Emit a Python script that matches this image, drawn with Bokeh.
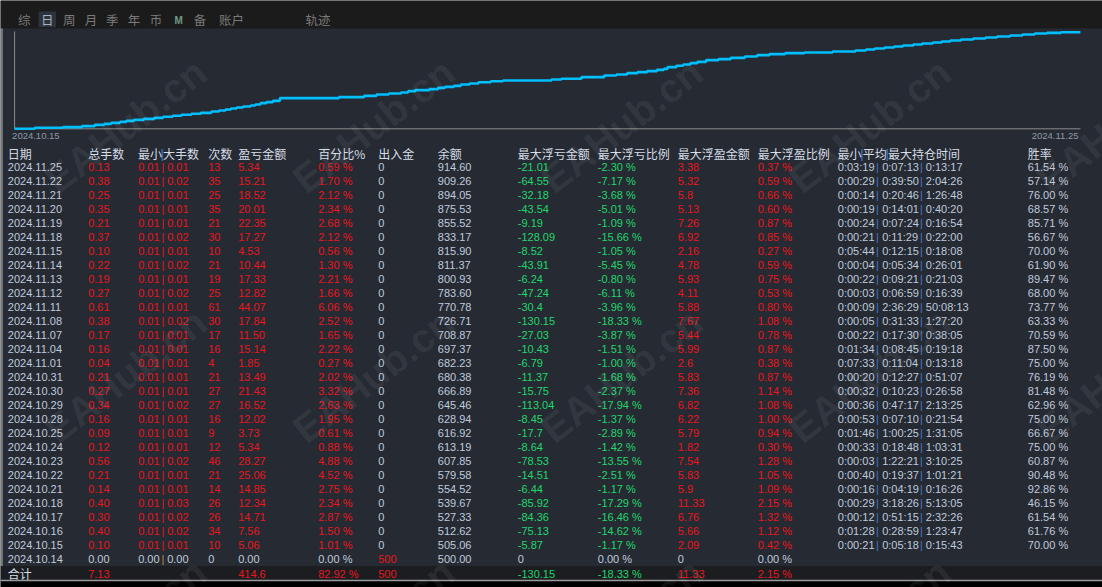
from bokeh.plotting import figure
from bokeh.models import Range1d, ColumnDataSource
from bokeh.core.properties import value
from bokeh.embed import file_html
from bokeh.resources import INLINE

# ------------------------------------------------------------------ data
dates = ["2024.11.25", "2024.11.22", "2024.11.21", "2024.11.20", "2024.11.19", "2024.11.18",
         "2024.11.15", "2024.11.14", "2024.11.13", "2024.11.12", "2024.11.11", "2024.11.08",
         "2024.11.07", "2024.11.04", "2024.11.01", "2024.10.31", "2024.10.30", "2024.10.29",
         "2024.10.28", "2024.10.25", "2024.10.24", "2024.10.23", "2024.10.22", "2024.10.21",
         "2024.10.18", "2024.10.17", "2024.10.16", "2024.10.15", "2024.10.14"]
total_lots = [0.13, 0.38, 0.25, 0.35, 0.21, 0.37, 0.10, 0.22, 0.19, 0.27, 0.61, 0.38, 0.17, 0.16,
              0.04, 0.21, 0.27, 0.34, 0.16, 0.09, 0.12, 0.56, 0.21, 0.14, 0.40, 0.30, 0.40, 0.10, 0.00]
min_lots = [0.01] * 28 + [0.00]
max_lots = [0.01, 0.02, 0.01, 0.01, 0.01, 0.02, 0.01, 0.02, 0.01, 0.02, 0.01, 0.02, 0.01, 0.01,
            0.01, 0.01, 0.01, 0.02, 0.01, 0.01, 0.01, 0.02, 0.01, 0.01, 0.03, 0.02, 0.02, 0.01, 0.00]
trades = [13, 35, 25, 35, 21, 30, 10, 21, 19, 25, 61, 30, 17, 16, 4, 21, 27, 27, 16, 9, 12, 46,
          21, 14, 26, 26, 34, 10, 0]
pnl = [5.34, 15.21, 18.52, 20.01, 22.35, 17.27, 4.53, 10.44, 17.33, 12.82, 44.07, 17.84, 11.50,
       15.14, 1.85, 13.49, 21.43, 16.52, 12.02, 3.73, 5.34, 28.27, 25.06, 14.85, 12.34, 14.71,
       7.56, 5.06, 0.00]
pnl_pct = [0.59, 1.70, 2.12, 2.34, 2.68, 2.12, 0.56, 1.30, 2.21, 1.66, 6.06, 2.52, 1.65, 2.22,
           0.27, 2.02, 3.32, 2.63, 1.95, 0.61, 0.88, 4.88, 4.52, 2.75, 2.34, 2.87, 1.50, 1.01, 0.00]
cash_flow = [0, 0, 0, 0, 0, 0, 0, 0, 0, 0, 0, 0, 0, 0, 0, 0, 0, 0, 0, 0, 0, 0, 0, 0, 0, 0, 0, 0, 500]
balance = [914.60, 909.26, 894.05, 875.53, 855.52, 833.17, 815.90, 811.37, 800.93, 783.60, 770.78,
           726.71, 708.87, 697.37, 682.23, 680.38, 666.89, 645.46, 628.94, 616.92, 613.19, 607.85,
           579.58, 554.52, 539.67, 527.33, 512.62, 505.06, 500.00]
max_float_loss = [-21.01, -64.55, -32.18, -43.54, -9.19, -128.09, -8.52, -43.91, -6.24, -47.24,
                  -30.4, -130.15, -27.03, -10.43, -6.79, -11.37, -15.75, -113.04, -8.45, -17.7,
                  -8.64, -78.53, -14.51, -6.44, -85.92, -84.36, -75.13, -5.87, 0]
max_float_loss_pct = [-2.30, -7.17, -3.68, -5.01, -1.09, -15.66, -1.05, -5.45, -0.80, -6.11, -3.96,
                      -18.33, -3.87, -1.51, -1.00, -1.68, -2.37, -17.94, -1.37, -2.89, -1.42,
                      -13.55, -2.51, -1.17, -17.29, -16.46, -14.62, -1.17, 0.00]
max_float_profit = [3.38, 5.32, 5.8, 5.13, 7.26, 6.92, 2.16, 4.78, 5.93, 4.11, 5.88, 7.67, 5.44,
                    5.99, 2.6, 5.83, 7.36, 6.82, 6.22, 5.79, 1.82, 7.54, 5.83, 5.9, 11.33, 6.76,
                    5.66, 2.09, 0]
max_float_profit_pct = [0.37, 0.59, 0.66, 0.60, 0.87, 0.85, 0.27, 0.59, 0.75, 0.53, 0.80, 1.08,
                        0.78, 0.87, 0.38, 0.87, 1.14, 1.08, 1.00, 0.94, 0.30, 1.28, 1.05, 1.09,
                        2.15, 1.32, 1.12, 0.42, 0.00]
hold_min = ["0:03:19", "0:00:29", "0:00:14", "0:00:19", "0:00:24", "0:00:21", "0:05:44", "0:00:04",
            "0:00:22", "0:00:03", "0:00:09", "0:00:05", "0:00:22", "0:01:34", "0:07:33", "0:00:20",
            "0:00:32", "0:00:36", "0:00:53", "0:01:46", "0:00:33", "0:00:03", "0:00:40", "0:00:16",
            "0:00:29", "0:00:12", "0:01:28", "0:00:21", ""]
hold_avg = ["0:07:13", "0:39:50", "0:20:46", "0:14:01", "0:07:24", "0:11:29", "0:12:15", "0:05:34",
            "0:09:21", "0:06:59", "2:36:29", "0:31:33", "0:17:30", "0:08:45", "0:11:04", "0:12:27",
            "0:10:23", "0:47:17", "0:07:10", "1:00:25", "0:18:48", "1:22:21", "0:19:37", "0:04:19",
            "3:18:26", "0:51:15", "0:28:59", "0:05:18", ""]
hold_max = ["0:13:17", "2:04:26", "1:26:48", "0:40:20", "0:16:54", "0:22:00", "0:18:08", "0:26:01",
            "0:21:03", "0:16:39", "50:08:13", "1:27:20", "0:38:05", "0:19:18", "0:13:18", "0:51:07",
            "0:26:58", "2:13:25", "0:21:54", "1:31:05", "1:03:31", "3:10:25", "1:01:21", "0:16:26",
            "5:13:05", "2:32:26", "1:23:47", "0:15:43", ""]
win_rate = [61.54, 57.14, 76.00, 68.57, 85.71, 56.67, 70.00, 61.90, 89.47, 68.00, 73.77, 63.33,
            70.59, 87.50, 75.00, 76.19, 81.48, 62.96, 75.00, 66.67, 75.00, 60.87, 90.48, 92.86,
            46.15, 61.54, 61.76, 70.00, None]

# totals row (合计)
total_sum_lots = 7.13
total_pnl = 414.6
total_pnl_pct = 82.92
total_cash_flow = 500
total_max_loss = -130.15
total_max_loss_pct = -18.33
total_max_profit = 11.33
total_max_profit_pct = 2.15

headers = ["日期", "总手数", "最小|大手数", "次数", "盈亏金额", "百分比%", "出入金", "余额",
           "最大浮亏金额", "最大浮亏比例", "最大浮盈金额", "最大浮盈比例", "最小|平均|最大持仓时间", "胜率"]
tabs = ["综", "日", "周", "月", "季", "年", "币", "M", "备", "账户", "轨迹"]
chart_start_label = "2024.10.15"
chart_end_label = "2024.11.25"

# balance curve (progress through period in %, balance)
curve_t = [0, 1.9, 4.54, 6.32, 7.52, 8.41, 9.06, 9.89, 10.48, 11.2, 12.13, 13.12, 13.94, 14.83,
           15.66, 16.58, 17.47, 18.46, 19.19, 19.78, 20.3, 20.83, 21.43, 22.15, 22.58, 23.07,
           23.63, 24.23, 24.89, 30.43, 32.8, 33.96, 35.11, 36.26, 36.92, 37.59, 38.9, 39.73,
           40.38, 41.21, 41.87, 42.69, 43.52, 44.67, 45.82, 50.37, 51.3, 53.18, 55.32, 56.47,
           57.47, 58.45, 59.35, 60.26, 60.92, 61.26, 62.08, 62.74, 63.4, 64.06, 64.88, 66.04,
           67.19, 68.51, 69.67, 70.82, 72.3, 74.11, 76.75, 78.9, 79.88, 80.71, 81.63, 82.52,
           83.35, 84.33, 85.16, 86.15, 86.98, 87.79, 88.79, 89.94, 91.1, 92.18, 93.4, 94.56,
           95.71, 96.87, 98.18, 100]
curve_bal = [500, 504.2, 507.0, 511.3, 517.0, 521.3, 525.6, 529.9, 534.2, 538.5, 542.8, 547.1,
             551.4, 555.7, 560.0, 564.3, 568.5, 574.3, 578.5, 582.8, 587.1, 591.4, 595.7, 600.0,
             604.3, 610.0, 614.3, 620.0, 631.5, 635.8, 641.5, 647.2, 651.5, 655.8, 661.5, 665.8,
             670.1, 675.8, 680.1, 684.4, 690.1, 694.4, 700.1, 704.4, 707.3, 711.6, 714.5, 721.6,
             728.8, 733.1, 738.8, 743.1, 747.4, 753.1, 757.4, 764.5, 770.3, 776.0, 781.7, 787.4,
             794.6, 798.9, 804.6, 810.3, 816.0, 820.3, 824.6, 827.5, 831.8, 836.1, 840.4, 844.7,
             849.0, 853.3, 857.5, 861.8, 866.1, 870.4, 874.7, 879.0, 883.3, 887.6, 891.9, 896.2,
             900.5, 904.8, 909.1, 911.9, 914.6, 914.6]

# ------------------------------------------------------------------ style / layout
W, H = 1102, 587
PX0, PY0 = 0, 0
BG = "#252a33"
TOPBAR = "#1b1b1b"
LIGHT = "#c0cbdc"
HEAD = "#d6dce5"
RED = "#e8161d"
GREEN = "#22d66b"
BLUE = "#3f7fd0"
LINE = "#00bfff"
AXIS = "#8a8a8a"
LAT = value("Liberation Sans")
LAT_SIZE = "11px"
CJK = value("Noto Sans CJK SC")

p = figure(width=W, height=H, output_backend="svg", toolbar_location=None,
           x_range=Range1d(PX0, PX0 + W), y_range=Range1d(PY0 + H, PY0),
           min_border=0, outline_line_color=None,
           background_fill_color=BG, border_fill_color=BG)
p.axis.visible = False
p.grid.visible = False

# chart calibration (pixel anchors of the small balance chart)
cx0, cx1 = 14.1, 1079.9            # t = 0 .. 100
cy0, cy1 = 128.3, 31.7             # balance 500 .. 914.6
b0, b1 = 500.0, 914.6
tpp = 100.0 / (cx1 - cx0)
bpp = (b1 - b0) / (cy0 - cy1)
p.extra_x_ranges = {"cx": Range1d((PX0 - cx0) * tpp, (PX0 + W - cx0) * tpp)}
p.extra_y_ranges = {"cy": Range1d(b0 - (PY0 + H - cy0) * bpp, b0 + (cy0 - PY0) * bpp)}

# top bar
p.quad(left=[0], right=[1102], top=[0], bottom=[28], fill_color=TOPBAR, line_color=None)
p.quad(left=[38], right=[55.5], top=[11], bottom=[26.7], fill_color="#2b333f", line_color=None)
tab_x = [17.6, 40.4, 62.5, 84.3, 105.4, 127.2, 149.3, 173.9, 193.3, 218.6, 305]
for tx, t in zip(tab_x, tabs):
    if t == "M":
        p.text(x=[tx], y=[19.5], text=[t], text_color="#6f9a86", text_font=LAT,
               text_font_size="10px", text_font_style="bold", text_baseline="middle")
    else:
        p.text(x=[tx], y=[19], text=[t], text_color="#a9b0ba" if t == "日" else "#7a7a7a",
               text_font=CJK, text_font_size="12.5px", text_baseline="middle")

# left border, bottom black strip
p.segment(x0=[1.5], y0=[28], x1=[1.5], y1=[580], line_color="#8c8c8c", line_width=1.5)
p.quad(left=[0], right=[1102], top=[580], bottom=[587], fill_color="#000000", line_color=None)

# small chart axes + curve
p.segment(x0=[0, 0], y0=[b0, b0], x1=[0, 100], y1=[b0 + (cy0 - 31) * bpp, b0],
          x_range_name="cx", y_range_name="cy", line_color=AXIS, line_width=1)
p.step(x=curve_t, y=curve_bal, mode="after", x_range_name="cx", y_range_name="cy",
       line_color=LINE, line_width=2.6)
p.text(x=[11.6], y=[135.7], text=[chart_start_label], text_color="#8f98a4", text_font=LAT,
       text_font_size="9.5px", text_baseline="middle")
p.text(x=[1078], y=[135.7], text=[chart_end_label], text_color="#8f98a4", text_font=LAT,
       text_font_size="9.5px", text_baseline="middle", text_align="right")

# table
COL = dict(date=7.3, lots=87.7, mm=137.7, cnt=207.7, pnl=237.7, pct=317.7, flow=377.7,
           bal=437.3, dl=517.3, dlp=597.3, fp=677.3, fpp=757.3, time=837.3, win=1027.3)
HEAD_Y, ROW0, ROWH, TOT_Y = 152.8, 166.2, 14.0, 573.3

# totals row background and bottom border
p.quad(left=[0], right=[1102], top=[565.5], bottom=[579.5], fill_color="#1b1d21", line_color=None)
p.segment(x0=[0], y0=[580], x1=[1102], y1=[580], line_color="#9a9a9a", line_width=1.5)

# header
hx = [COL[k] for k in ["date", "lots", "mm", "cnt", "pnl", "pct", "flow", "bal", "dl", "dlp",
                       "fp", "fpp", "time", "win"]]
hsrc = dict(x=[], text=[])
for x, h in zip(hx, headers):
    if "|" in h:
        parts = h.split("|")
        xx = x - 0.3
        for j, part in enumerate(parts):
            hsrc["x"].append(xx)
            hsrc["text"].append(part)
            xx += 12 * len(part)
            if j < len(parts) - 1:
                p.text(x=[xx + 0.4], y=[HEAD_Y], text=["|"], text_color=BLUE, text_font=LAT,
                       text_font_size="13px", text_baseline="middle", text_align="center")
                xx += 1.2
    else:
        hsrc["x"].append(x)
        hsrc["text"].append(h)
p.text(x="x", y=HEAD_Y, text="text", source=ColumnDataSource(hsrc), text_color=HEAD,
       text_font=CJK, text_font_size="12px", text_baseline="middle")

cells = dict(x=[], y=[], text=[], color=[], align=[])


def add(x, y, t, c, a="left"):
    cells["x"].append(x)
    cells["y"].append(y)
    cells["text"].append(t)
    cells["color"].append(c)
    cells["align"].append(a)


for i, d in enumerate(dates):
    y = ROW0 + ROWH * i
    rc = RED if trades[i] else LIGHT
    add(COL["date"], y, d, LIGHT)
    add(COL["lots"], y, f"{total_lots[i]:.2f}", rc)
    add(COL["mm"], y, f"{min_lots[i]:.2f}", rc)
    add(COL["mm"] + 24.8, y, "|", rc if trades[i] else "#c08a3a", "center")
    add(COL["mm"] + 29.0, y, f"{max_lots[i]:.2f}", rc)
    add(COL["cnt"], y, f"{trades[i]}", rc)
    add(COL["pnl"], y, f"{pnl[i]:.2f}", rc)
    add(COL["pct"], y, f"{pnl_pct[i]:.2f} %", rc)
    add(COL["flow"], y, f"{cash_flow[i]:g}", RED if cash_flow[i] else LIGHT)
    add(COL["bal"], y, f"{balance[i]:.2f}", LIGHT)
    gc = GREEN if max_float_loss[i] else LIGHT
    add(COL["dl"], y, f"{max_float_loss[i]:g}", gc)
    add(COL["dlp"], y, f"{max_float_loss_pct[i]:.2f} %", gc)
    fc = RED if max_float_profit[i] else LIGHT
    add(COL["fp"], y, f"{max_float_profit[i]:g}", fc)
    add(COL["fpp"], y, f"{max_float_profit_pct[i]:.2f} %", fc)
    if hold_min[i]:
        add(COL["time"], y, hold_min[i], LIGHT)
        add(COL["time"] + 39.6, y, "|", BLUE, "center")
        add(COL["time"] + 44.4, y, hold_avg[i], LIGHT)
        add(COL["time"] + 83.6, y, "|", BLUE, "center")
        add(COL["time"] + 88.0, y, hold_max[i], LIGHT)
    if win_rate[i] is not None:
        add(COL["win"], y, f"{win_rate[i]:.2f} %", LIGHT)

add(COL["lots"], TOT_Y, f"{total_sum_lots:.2f}", RED)
add(COL["pnl"], TOT_Y, f"{total_pnl:g}", RED)
add(COL["pct"], TOT_Y, f"{total_pnl_pct:.2f} %", RED)
add(COL["flow"], TOT_Y, f"{total_cash_flow}", RED)
add(COL["dl"], TOT_Y, f"{total_max_loss:g}", GREEN)
add(COL["dlp"], TOT_Y, f"{total_max_loss_pct:.2f} %", GREEN)
add(COL["fp"], TOT_Y, f"{total_max_profit:g}", RED)
add(COL["fpp"], TOT_Y, f"{total_max_profit_pct:.2f} %", RED)

p.text(x="x", y="y", text="text", text_color="color", text_align="align",
       source=ColumnDataSource(cells), text_font=LAT, text_font_size=LAT_SIZE,
       text_baseline="middle")
p.text(x=[COL["date"]], y=[TOT_Y], text=["合计"], text_color=HEAD, text_font=CJK,
       text_font_size="12px", text_baseline="middle")

# watermarks
wx, wy = [], []
for m in range(3):
    for k in range(5):
        wx.append(125 + 248 * k)
        wy.append(125 + 250 * m)
p.text(x=wx, y=wy, text=["EAHub.cn"] * len(wx), angle=0.66, text_align="center",
       text_baseline="middle", text_font=value("Liberation Sans"), text_font_style="bold",
       text_font_size="40px", text_color="#ffffff", text_alpha=0.07)

open("out.html", "w").write(file_html(p, INLINE))
